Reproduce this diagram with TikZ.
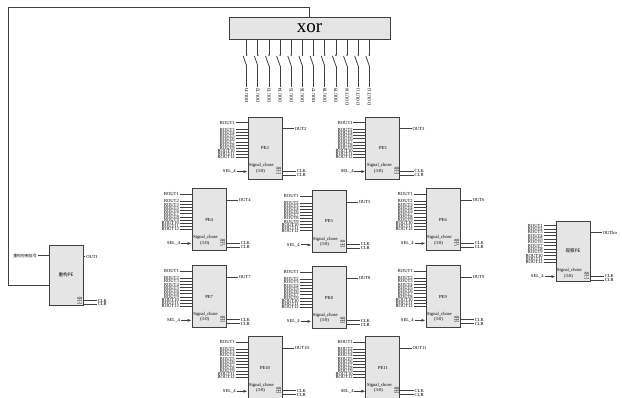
\documentclass[tikz,border=0pt]{standalone}
\usepackage{fontspec}
\setmainfont{Liberation Serif}
\newfontfamily\cjk{Noto Sans CJK SC}
\usetikzlibrary{positioning,calc,arrows.meta}
\definecolor{blockgray}{gray}{0.9}
\definecolor{wiregray}{gray}{0.25}
\tikzset{
	my node/.style = {rectangle, draw=wiregray, line width=0.9pt, fill=blockgray, inner sep=0pt, minimum width=34pt, minimum height=62pt, font=\fontsize{4.6}{5}\selectfont},
	my edge/.style = {-, draw=wiregray, line width=0.8pt},
	my label/.style = {inner sep=0.6pt, font=\fontsize{4.6}{5}\selectfont, text=black},
	my tiny/.style = {inner sep=0pt, font=\fontsize{3.6}{4}\selectfont, text=black},
	sel edge/.style = {my edge, -{Latex[length=4pt,width=3pt]}, line width=1pt}
}
% wires common to every block: name, out offset, out text
\newcommand{\pebase}[3]{
	\node[my label,anchor=west] (#1sig) at ($(#1.north west)+(0.8,#2-6)$) {Signal\_chose};
	\node[my label] (#1rng) at ($(#1.north west)+(13,#2-0.5)$) {(3:0)};
	\node[my tiny,rotate=90] (#1ck) at ($(#1.north east)+(-5,#2-1)$) {CLK};
	\node[my tiny,rotate=90] (#1cr) at ($(#1.north east)+(-2.5,#2-1)$) {CLR};
	\node[my label,anchor=east] (#1sel) at ($(#1.north west)+(-11,#2)$) {SEL\_4};
	\draw[sel edge] (#1sel) -- (#1sel -| #1.west);
	\node[my label,anchor=west] (#1clk) at ($(#1.north east)+(13.5,#2-0.5)$) {CLK};
	\node[my label,anchor=west] (#1clr) at ($(#1.north east)+(13.5,#2+3.5)$) {CLR};
	\draw[my edge] (#1clk) -- (#1clk -| #1.east);
	\draw[my edge] (#1clr) -- (#1clr -| #1.east);
	\node[my label,anchor=west] (#1out) at ($(#1.north east)+(11.5,12)$) {#3};
	\draw[my edge] (#1out) -- (#1out -| #1.east);
}
% ROUT inputs of a numbered block, the block's own number is left out
\newcommand{\pewires}[3]{
	\foreach \i in {1,...,12} {
		\ifnum\i=#2\else
			\pgfmathtruncatemacro{\j}{\i<#2 ? \i : \i-1}
			\pgfmathsetmacro{\r}{\j==1 ? 6 : 13+(\j-2)*3.1}
			\node[my label,anchor=east] (#1r\i) at ($(#1.north west)+(-12,\r)$) {ROUT\i};
			\draw[my edge] (#1r\i) -- (#1r\i -| #1.west);
		\fi
	}
	\pebase{#1}{55}{#3}
}
\begin{document}
\begin{tikzpicture}[x=1pt,y=-1pt]
	\useasboundingbox (0,0) rectangle (622,397);
	\node[my node,minimum width=161pt,minimum height=22pt,font=\fontsize{19}{20}\selectfont] (xor) at (309.5,28) {xor};
	\node[my node] (pe2) at (265,148) {PE2};
	\node[my node] (pe3) [right=83pt of pe2] {PE3};
	\node[my node] (pe4) [below left=9pt and 21pt of pe2] {PE4};
	\node[my node] (pe5) [right=85pt of pe4,yshift=-1.5pt] {PE5};
	\node[my node] (pe6) [right=199pt of pe4] {PE6};
	\node[my node] (pe7) [below=14pt of pe4] {PE7};
	\node[my node] (pe8) [right=85pt of pe7,yshift=-1pt] {PE8};
	\node[my node] (pe9) [right=199pt of pe7] {PE9};
	\node[my node] (pe10) [below right=8pt and 21pt of pe7] {PE10};
	\node[my node] (pe11) [right=83pt of pe10] {PE11};
	\node[my node,minimum height=60pt] (bosspe) at (66,275) {\cjk 重构PE};
	\node[my node,minimum height=60pt] (viewpe) at (573,251) {\cjk 观察PE};
	% xor inputs with their switches
	\foreach \i in {1,...,12} {
		\pgfmathsetmacro{\dx}{246.7+(\i-1)*11.15}
		\node[my label,rotate=90,anchor=east] (dout\i) at (\dx,87) {DOUT\i};
		\coordinate (swa\i) at (\dx,55);
		\coordinate (swb\i) at (\dx,66);
		\coordinate (swc\i) at (\dx-3.5,56);
		\draw[my edge] (xor.south -| swa\i) -- (swa\i);
		\fill[wiregray] (swa\i) circle (0.9pt);
		\draw[my edge] (swc\i) -- (swb\i);
		\draw[my edge] (swb\i) -- (dout\i);
	}
	\pewires{pe2}{2}{OUT2}
	\pewires{pe3}{3}{OUT3}
	\pewires{pe4}{4}{OUT4}
	\pewires{pe5}{5}{OUT5}
	\pewires{pe6}{6}{OUT6}
	\pewires{pe7}{7}{OUT7}
	\pewires{pe8}{8}{OUT8}
	\pewires{pe9}{9}{OUT9}
	\pewires{pe10}{10}{OUT10}
	\pewires{pe11}{11}{OUT11}
	% the block on the right takes all twelve
	\foreach \i in {1,...,12} {
		\pgfmathsetmacro{\r}{5+(\i-1)*3.35}
		\node[my label,anchor=east] (viewper\i) at ($(viewpe.north west)+(-12,\r)$) {ROUT\i};
		\draw[my edge] (viewper\i) -- (viewper\i -| viewpe.west);
	}
	\pebase{viewpe}{56}{OUTbn}
	% the block on the left
	\node[my label,anchor=east,font=\fontsize{3.9}{4}\selectfont] (cfg) at ($(bosspe.north west)+(-11,11)$) {\cjk 重构控制信号};
	\draw[my edge] (cfg) -- (cfg -| bosspe.west);
	\node[my tiny,rotate=90] (bossck) at ($(bosspe.north east)+(-5,56)$) {CLK};
	\node[my tiny,rotate=90] (bosscr) at ($(bosspe.north east)+(-2.5,56)$) {CLR};
	\node[my label,anchor=west] (bossclk) at ($(bosspe.north east)+(13.5,56)$) {CLK};
	\node[my label,anchor=west] (bossclr) at ($(bosspe.north east)+(13.5,59.5)$) {CLR};
	\draw[my edge] (bossclk) -- (bossclk -| bosspe.east);
	\draw[my edge] (bossclr) -- (bossclr -| bosspe.east);
	\node[my label,anchor=west] (bossout) at ($(bosspe.north east)+(2,12)$) {OUT1};
	\draw[my edge] (bossout) -- (bossout -| bosspe.east);
	\coordinate (fbin) at ($(bosspe.north west)+(0,41)$);
	\coordinate (fbtop) at (8,7);
	\draw[my edge] (fbin) -| (fbtop) -| (xor.north);
\end{tikzpicture}
\end{document}
